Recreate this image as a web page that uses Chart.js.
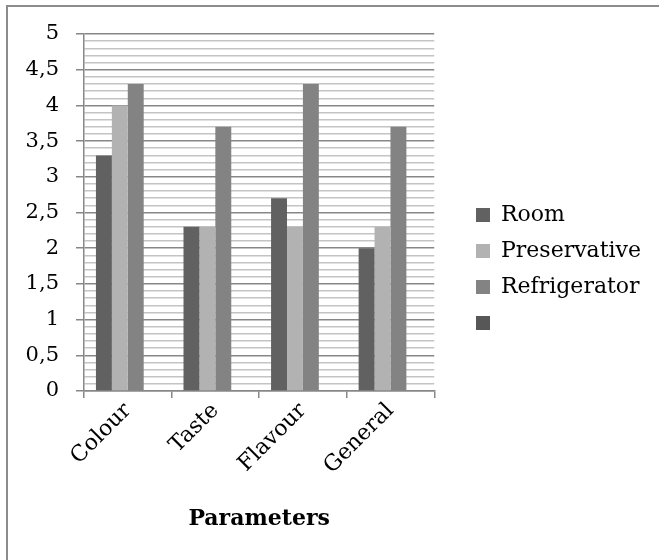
<!DOCTYPE html>
<html>
<head>
<meta charset="utf-8">
<script src="https://cdn.jsdelivr.net/npm/chart.js@4.4.0/dist/chart.umd.min.js"></script>
<style>
  html, body { margin: 0; padding: 0; background: #fff; overflow: hidden; }
  #wrap { position: relative; width: 659px; height: 560px; }
  #frame {
    position: absolute; left: 6px; top: 5px; width: 700px; height: 700px;
    border-left: 2px solid #8c8c8c; border-top: 2px solid #8c8c8c;
  }
  canvas { position: absolute; left: 0; top: 0; }
</style>
</head>
<body>
<div id="wrap">
  <div id="frame"></div>
  <canvas id="chart" width="659" height="560"></canvas>
</div>
<script>
// data
const categories = ["Colour", "Taste", "Flavour", "General"];
const roomValues = [3.3, 2.3, 2.7, 2.0];
const preservativeValues = [4.0, 2.3, 2.3, 2.3];
const refrigeratorValues = [4.3, 3.7, 4.3, 3.7];
const emptyValues = []; // 4th legend entry has no label and no bars
const yMin = 0, yMax = 5, yMinorStep = 0.1;

const serif = "'DejaVu Serif', serif";

function isMajor(v) {
  return Math.round(v * 10) % 5 === 0;
}

// move the legend down/right like the original
const legendPlacer = {
  id: "legendPlacer",
  afterLayout(chart) {
    const lg = chart.legend;
    if (!lg) return;
    lg.left = 462;
    lg.right = 659;
    lg.top = 190;
    lg.bottom = 560;
  }
};

const ctx = document.getElementById("chart").getContext("2d");
new Chart(ctx, {
  type: "bar",
  data: {
    labels: categories,
    datasets: [
      { label: "Room", data: roomValues, backgroundColor: "#616161" },
      { label: "Preservative", data: preservativeValues, backgroundColor: "#b2b2b2" },
      { label: "Refrigerator", data: refrigeratorValues, backgroundColor: "#838383" },
      { label: "", data: emptyValues, backgroundColor: "#575757" }
    ]
  },
  options: {
    responsive: false,
    animation: false,
    datasets: {
      bar: { categoryPercentage: 4 / 5.5, barPercentage: 1, borderWidth: 0 }
    },
    layout: { padding: { top: 34, left: 0, right: 80, bottom: 0 } },
    plugins: {
      tooltip: { enabled: false },
      legend: {
        position: "right",
        align: "start",
        labels: {
          boxWidth: 14,
          boxHeight: 14,
          padding: 14,
          color: "#000",
          font: { family: serif, size: 22 }
        }
      }
    },
    scales: {
      x: {
        afterFit(scale) { scale.height = 169; },
        grid: {
          offset: true,
          drawOnChartArea: false,
          tickLength: 7,
          color: "#878787",
          lineWidth: 1.5
        },
        border: { color: "#878787", width: 1.5 },
        ticks: {
          minRotation: 45,
          maxRotation: 45,
          padding: 0,
          color: "#000",
          font: { family: serif, size: 22 }
        },
        title: {
          display: true,
          text: "Parameters",
          color: "#000",
          font: { family: serif, size: 22, weight: "bold" },
          padding: { top: 30, bottom: 28 }
        }
      },
      y: {
        min: yMin,
        max: yMax,
        afterFit(scale) { scale.width = 84; },
        grid: {
          color: (c) => isMajor(c.tick.value) ? "#878787" : "#c4c4c4",
          tickColor: (c) => isMajor(c.tick.value) ? "#878787" : "rgba(0,0,0,0)",
          lineWidth: 1.5,
          tickLength: 8
        },
        border: { color: "#878787", width: 1.5 },
        ticks: {
          stepSize: yMinorStep,
          maxTicksLimit: 100,
          autoSkip: false,
          padding: 17,
          color: "#000",
          font: { family: serif, size: 21 },
          callback: (v) => isMajor(v) ? String(Math.round(v * 10) / 10).replace(".", ",") : ""
        }
      }
    }
  },
  plugins: [legendPlacer]
});
</script>
</body>
</html>
